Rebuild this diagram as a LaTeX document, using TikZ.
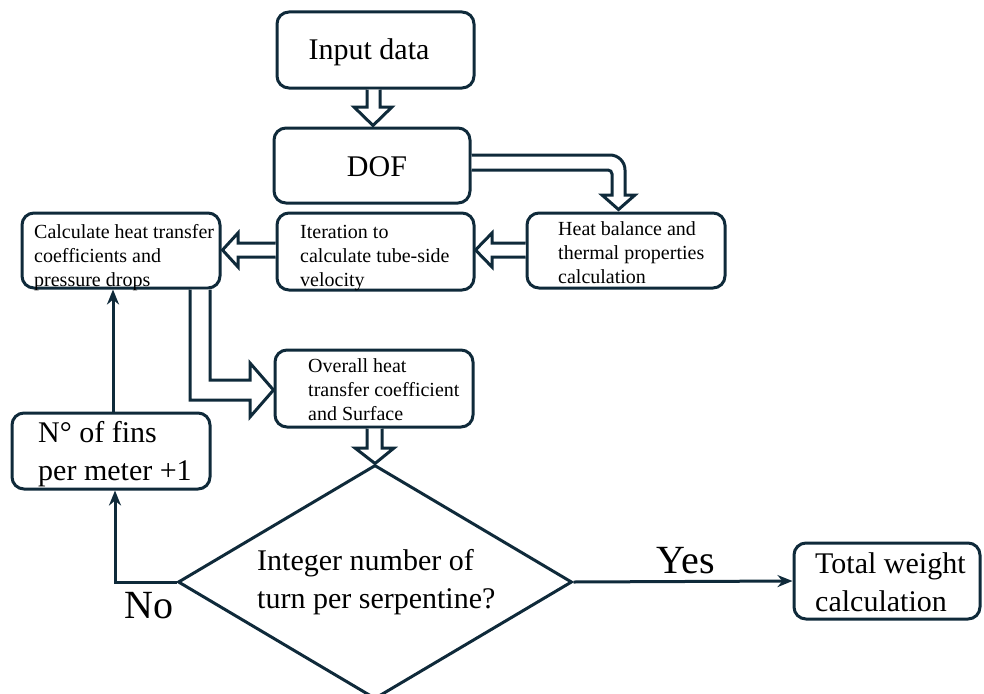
\documentclass[tikz,border=0pt]{standalone}
\usepackage{fontspec}
\setmainfont{Liberation Serif}
\usetikzlibrary{shapes.geometric,arrows.meta,calc}
\definecolor{navy}{HTML}{0F2A3A}
\tikzset{
  box/.style={draw=navy, line width=3pt, rounded corners=12pt, fill=white, inner sep=0pt},
  small/.style={font=\fontsize{20}{24}\selectfont, align=left, inner sep=0pt, anchor=west},
  big/.style={font=\fontsize{30}{38}\selectfont},
  bigl/.style={font=\fontsize{30}{38}\selectfont, align=left, inner sep=0pt, anchor=west},
  blk/.style={draw=navy, line width=3pt, fill=white, line join=miter},
  thin/.style={draw=navy, line width=3pt, -{Stealth[length=15pt,width=12pt]}},
  lbl/.style={font=\fontsize{40}{44}\selectfont, inner sep=0pt, anchor=base}
}
\begin{document}
\begin{tikzpicture}[x=1pt,y=-1pt]
\useasboundingbox (0,0) rectangle (984,693);

% boxes
\node[box, minimum width=197pt, minimum height=76pt] (in) at (375.5,50) {};
\node[box, minimum width=196pt, minimum height=75pt] (dof) at (372,165.5) {};
\node[box, minimum width=198pt, minimum height=75pt] (calc) at (121,250.5) {};
\node[box, minimum width=197pt, minimum height=77pt] (it) at (375.5,251.5) {};
\node[box, minimum width=198pt, minimum height=75pt] (hb) at (626,250.5) {};
\node[box, minimum width=198pt, minimum height=77pt] (ov) at (374,388.5) {};
\node[box, minimum width=198pt, minimum height=76pt] (fins) at (111,451) {};
\node[box, minimum width=186pt, minimum height=76pt] (tw) at (887,581) {};
\node[draw=navy, line width=3pt, shape=diamond, aspect=1.68, minimum width=394pt, minimum height=234pt,
  inner sep=0pt] (dia) at (375,582) {};

% texts
\node[big, inner sep=0pt] (int) at (369,52) {Input data};
\node[big, inner sep=0pt] (doft) at (377,167) {DOF};
\node[small] (calct) at (34,258) {Calculate heat transfer\\coefficients and\\pressure drops};
\node[small] (itt) at (300,258) {Iteration to\\calculate tube-side\\velocity};
\node[small] (hbt) at (558,253) {Heat balance and\\thermal properties\\calculation};
\node[small] (ovt) at (308,390) {Overall heat\\transfer coefficient\\and Surface};
\node[bigl] (finst) at (38,454) {N° of fins\\per meter +1};
\node[bigl] (twt) at (815,582) {Total weight\\calculation};
\node[bigl] (diat) at (257,582) {Integer number of\\turn per serpentine?};

% block arrows
\path[blk] ($(in.south)+(-8.5,0)$) -- (367,107) -- (354,107) -- ($(dof.north)+(1,-1)$) -- (392,107) -- (380,107) -- ($(in.south)+(4.5,0)$);
\path[blk] ($(dof.east)+(0,-10.5)$) [rounded corners=15pt] -- (625,155) [sharp corners] -- (625,195) -- (635,195)
  -- ($(hb.north)+(-7.5,-2)$) -- (602,195) -- (612,195) [rounded corners=4pt] -- (612,170) [sharp corners] -- ($(dof.east)+(0,4.5)$);
\path[blk] ($(hb.west)+(0,-7.5)$) -- (492,243) -- (492,233) -- ($(it.east)+(0,-1.5)$) -- (492,267) -- (492,257) -- ($(hb.west)+(0,6.5)$);
\path[blk] ($(it.west)+(0,-8.5)$) -- (238,243) -- (238,233) -- ($(calc.east)+(1,-0.5)$) -- (238,267) -- (238,257) -- ($(it.west)+(0,5.5)$);
\path[blk] ($(calc.south)+(69,0)$) -- (190,400) -- (250,400) -- (250,417) -- ($(ov.west)+(0,1.5)$) -- (250,363) -- (250,380) -- (210,380) -- ($(calc.south)+(89,0)$);
\path[blk] ($(ov.south)+(-7,0)$) -- (367,448) -- (355,448) -- (dia.north) -- (394,448) -- (382,448) -- ($(ov.south)+(8,0)$);

% thin arrows
\draw[thin] (dia.west) -| ($(fins.south)+(4,0)$);
\draw[thin] ($(fins.north)+(2,0)$) -- ($(calc.south)+(-8,0)$);
\draw[thin] (dia.east) -- (tw.west);

% labels
\node[lbl] (no) at (149,618) {No};
\node[lbl] (yes) at (686,573) {Yes};
\end{tikzpicture}
\end{document}
